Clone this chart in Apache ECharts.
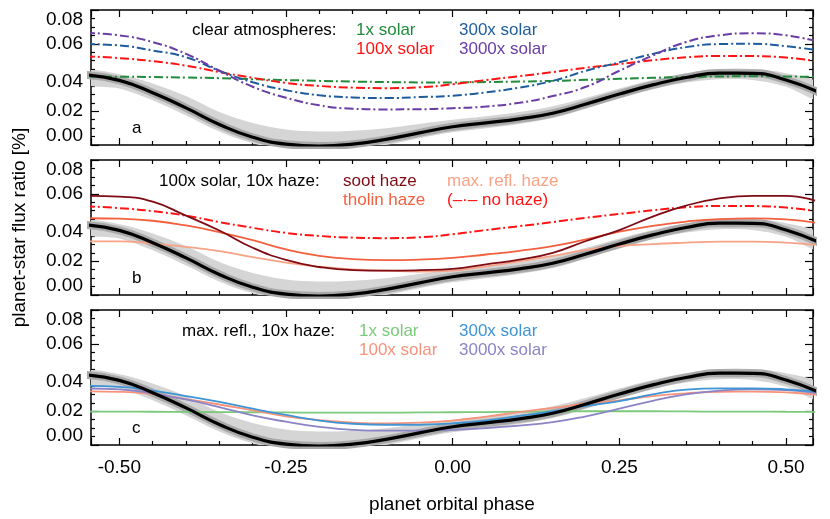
<!DOCTYPE html>
<html lang="en">
<head>
<meta charset="UTF-8"/>
<script type="text/javascript" src="https://cdn.jsdelivr.net/npm/echarts@6/dist/echarts.min.js"></script>
<title>planet-star flux ratio</title>
<style>
    html, body { margin: 0; padding: 0; background: #fff; }
    #main { width: 830px; height: 519px; }
</style>
</head>
<body>
<div id="main"></div>
<script type="text/javascript">
    // orbital phase samples
    var phase = [-0.55, -0.5, -0.45, -0.4, -0.35, -0.3, -0.25, -0.2, -0.15, -0.1, -0.05, 0,
        0.05, 0.1, 0.15, 0.2, 0.25, 0.3, 0.35, 0.4, 0.45, 0.5, 0.55]

    // observed phase curve (black) and its grey envelope
    var observed = [0.0415, 0.0383, 0.0310, 0.0220, 0.0122, 0.0046, 0.0005, -0.0006, 0.0005, 0.0033, 0.0072, 0.0108,
        0.0131, 0.0155, 0.0188, 0.0243, 0.0302, 0.0356, 0.0400, 0.0426, 0.0425, 0.0385, 0.0310]
    var bandHigh = [0.0440, 0.0420, 0.0365, 0.0290, 0.0195, 0.0130, 0.0092, 0.0080, 0.0085, 0.0100, 0.0125, 0.0150,
        0.0170, 0.0195, 0.0230, 0.0280, 0.0335, 0.0385, 0.0425, 0.0450, 0.0450, 0.0425, 0.0365]
    var bandLow = [0.0360, 0.0335, 0.0265, 0.0175, 0.0080, 0.0010, -0.0030, -0.0040, -0.0030, 0.0000, 0.0040, 0.0075,
        0.0100, 0.0125, 0.0160, 0.0215, 0.0275, 0.0330, 0.0370, 0.0390, 0.0385, 0.0345, 0.0265]

    // panel a: clear atmospheres
    var clear1x = [0.0405, 0.0405, 0.0403, 0.0400, 0.0396, 0.0390, 0.0385, 0.0380, 0.0376, 0.0373, 0.0371, 0.0371,
        0.0373, 0.0376, 0.0380, 0.0386, 0.0392, 0.0398, 0.0403, 0.0406, 0.0407, 0.0406, 0.0403]
    var clear100x = [0.0525, 0.0515, 0.0497, 0.0470, 0.0432, 0.0398, 0.0368, 0.0350, 0.0340, 0.0337, 0.0342, 0.0360,
        0.0385, 0.0408, 0.0432, 0.0458, 0.0480, 0.0502, 0.0520, 0.0528, 0.0527, 0.0518, 0.0495]
    var clear300x = [0.0598, 0.0590, 0.0560, 0.0520, 0.0440, 0.0372, 0.0325, 0.0295, 0.0282, 0.0278, 0.0284, 0.0292,
        0.0312, 0.0340, 0.0380, 0.0440, 0.0490, 0.0540, 0.0580, 0.0598, 0.0600, 0.0585, 0.0560]
    var clear3000x = [0.0664, 0.0650, 0.0610, 0.0540, 0.0440, 0.0345, 0.0280, 0.0235, 0.0215, 0.0211, 0.0212, 0.0218,
        0.0228, 0.0250, 0.0290, 0.0345, 0.0440, 0.0530, 0.0610, 0.0650, 0.0662, 0.0650, 0.0610]

    // panel b: 100x solar, 10x haze
    var sootHaze = [0.0588, 0.0583, 0.0553, 0.0470, 0.0382, 0.0280, 0.0208, 0.0166, 0.0147, 0.0144, 0.0147, 0.0155,
        0.0182, 0.0210, 0.0250, 0.0320, 0.0385, 0.0465, 0.0530, 0.0572, 0.0588, 0.0588, 0.0550]
    var tholinHaze = [0.0455, 0.0452, 0.0440, 0.0412, 0.0372, 0.0325, 0.0270, 0.0232, 0.0213, 0.0207, 0.0210, 0.0220,
        0.0240, 0.0262, 0.0290, 0.0330, 0.0375, 0.0410, 0.0435, 0.0450, 0.0454, 0.0448, 0.0425]
    var maxReflHaze = [0.0318, 0.0318, 0.0305, 0.0285, 0.0260, 0.0225, 0.0192, 0.0168, 0.0152, 0.0144, 0.0139, 0.0145,
        0.0170, 0.0200, 0.0232, 0.0268, 0.0290, 0.0302, 0.0310, 0.0316, 0.0316, 0.0310, 0.0295]

    // panel c: max. refl., 10x haze
    var refl1x = [0.0198, 0.0198, 0.0197, 0.0196, 0.0195, 0.0194, 0.0193, 0.0192, 0.0192, 0.0192, 0.0193, 0.0194,
        0.0195, 0.0197, 0.0199, 0.0200, 0.0200, 0.0200, 0.0199, 0.0198, 0.0198, 0.0197, 0.0196]
    var refl100x = [0.0318, 0.0315, 0.0302, 0.0272, 0.0240, 0.0205, 0.0170, 0.0148, 0.0133, 0.0128, 0.0132, 0.0145,
        0.0168, 0.0195, 0.0220, 0.0245, 0.0265, 0.0290, 0.0306, 0.0315, 0.0316, 0.0312, 0.0295]
    var refl300x = [0.0350, 0.0345, 0.0322, 0.0290, 0.0255, 0.0215, 0.0178, 0.0145, 0.0126, 0.0120, 0.0120, 0.0128,
        0.0145, 0.0172, 0.0200, 0.0232, 0.0260, 0.0300, 0.0328, 0.0336, 0.0336, 0.0330, 0.0315]
    var refl3000x = [0.0335, 0.0330, 0.0305, 0.0270, 0.0225, 0.0175, 0.0138, 0.0108, 0.0090, 0.0085, 0.0085, 0.0090,
        0.0100, 0.0115, 0.0135, 0.0170, 0.0215, 0.0262, 0.0300, 0.0322, 0.0330, 0.0325, 0.0305]

    var xTicks = [-0.5, -0.25, 0, 0.25, 0.5]

    var font = 'Liberation Sans, Arial, Helvetica, sans-serif'
    var dashDot = [9, 3, 2, 3]
    var gridTops = [10, 160, 310]

    function pairs(arr) {
        return phase.map(function (p, i) { return [p, arr[i]] })
    }

    var grid = [], xAxis = [], yAxis = [], series = []
    var tickStyle = {color: '#000', width: 1.2}

    gridTops.forEach(function (top, g) {
        grid.push({left: 91, top: top, width: 722, height: 135})
        ;['bottom', 'top'].forEach(function (pos) {
            var labelled = pos === 'bottom' && g === 2
            xAxis.push({
                type: 'value', gridIndex: g, position: pos,
                min: -0.5425, max: 0.5404, minInterval: 0.25, maxInterval: 0.25,
                axisLine: {show: true, onZero: false, lineStyle: {color: '#000', width: 1.5}},
                axisTick: {show: true, inside: true, length: 7, lineStyle: tickStyle},
                minorTick: {show: true, splitNumber: 5, length: 4, lineStyle: tickStyle},
                splitLine: {show: false},
                axisLabel: {
                    show: labelled, showMinLabel: false, showMaxLabel: false,
                    margin: 13, fontSize: 19, color: '#000', fontFamily: font,
                    formatter: function (v) {
                        return xTicks.some(function (t) { return Math.abs(t - v) < 1e-6 }) ? v.toFixed(2) : ''
                    }
                },
                name: labelled ? 'planet orbital phase' : '',
                nameLocation: 'middle', nameGap: 50,
                nameTextStyle: {fontSize: 19, color: '#000', fontFamily: font}
            })
        })
        ;['left', 'right'].forEach(function (pos) {
            var labelled = pos === 'left'
            yAxis.push({
                type: 'value', gridIndex: g, position: pos,
                min: 0, max: 0.08, interval: 0.02,
                axisLine: {show: true, onZero: false, lineStyle: {color: '#000', width: 1.5}},
                axisTick: {show: true, inside: true, length: 8, lineStyle: tickStyle},
                minorTick: {show: true, splitNumber: 4, length: 4, lineStyle: tickStyle},
                splitLine: {show: false},
                axisLabel: {
                    show: labelled, margin: 8, fontSize: 19, color: '#000', fontFamily: font,
                    verticalAlignMinLabel: 'bottom', verticalAlignMaxLabel: 'top',
                    formatter: function (v) {
                        var s = v.toFixed(2)
                        return s === '0.04' ? '{low|' + s + '}' : s
                    },
                    rich: {low: {fontSize: 19, color: '#000', fontFamily: font, padding: [8, 0, 0, 0]}}
                },
                name: (labelled && g === 1) ? 'planet-star flux ratio [%]' : '',
                nameLocation: 'middle', nameGap: 62, nameRotate: 90,
                nameTextStyle: {fontSize: 19, color: '#000', fontFamily: font}
            })
        })

        // grey envelope round the observed curve
        series.push({
            type: 'custom', xAxisIndex: 2 * g, yAxisIndex: 2 * g, clip: true, silent: true,
            data: [[0, 0]],
            renderItem: function (params, api) {
                var pts = []
                for (var i = 0; i < phase.length; i++) pts.push(api.coord([phase[i], bandHigh[i]]))
                for (var j = phase.length - 1; j >= 0; j--) pts.push(api.coord([phase[j], bandLow[j]]))
                var cs = params.coordSys
                return {
                    type: 'group',
                    clipPath: {type: 'rect', shape: {x: cs.x, y: cs.y, width: cs.width, height: cs.height}},
                    children: [{
                        type: 'polygon',
                        shape: {points: pts, smooth: 0.35},
                        style: {fill: '#d5d5d5', stroke: null}
                    }]
                }
            }
        })
        series.push({
            type: 'line', xAxisIndex: 2 * g, yAxisIndex: 2 * g, data: pairs(observed),
            smooth: true, symbol: 'none', lineStyle: {color: '#a9a9a9', width: 8}, silent: true
        })
    })

    function model(g, arr, color, dashed) {
        series.push({
            type: 'line', xAxisIndex: 2 * g, yAxisIndex: 2 * g, data: pairs(arr),
            smooth: true, symbol: 'none', silent: true,
            lineStyle: {color: color, width: dashed ? 2 : 1.8, type: dashed ? dashDot : 'solid'}
        })
    }

    model(0, clear1x, '#218a3b', true)
    model(0, clear100x, '#ff1414', true)
    model(0, clear300x, '#1f5c9e', true)
    model(0, clear3000x, '#6a3da5', true)

    model(1, clear100x, '#ff1414', true)
    model(1, maxReflHaze, '#f8a286', false)
    model(1, tholinHaze, '#f2603f', false)
    model(1, sootHaze, '#7f0b14', false)

    model(2, refl1x, '#7cc97c', false)
    model(2, refl100x, '#f7937a', false)
    model(2, refl3000x, '#8b84c6', false)
    model(2, refl300x, '#3f94d4', false)

    gridTops.forEach(function (top, g) {
        series.push({
            type: 'line', xAxisIndex: 2 * g, yAxisIndex: 2 * g, data: pairs(observed),
            smooth: true, symbol: 'none', lineStyle: {color: '#000', width: 3.2}, silent: true
        })
    })

    function label(x, y, text, color) {
        return {
            type: 'text', x: x, y: y, z: 100, silent: true,
            style: {text: text, fill: color, fontSize: 17, fontFamily: font, verticalAlign: 'middle'}
        }
    }

    var option = {
        animation: false,
        backgroundColor: '#fff',
        grid: grid,
        xAxis: xAxis,
        yAxis: yAxis,
        series: series,
        graphic: [
            label(192, 30, 'clear atmospheres:', '#000'),
            label(356, 30, '1x solar', '#218a3b'),
            label(356, 49, '100x solar', '#ff1414'),
            label(459, 30, '300x solar', '#1f5c9e'),
            label(459, 49, '3000x solar', '#6a3da5'),
            label(132, 128, 'a', '#000'),

            label(159, 181, '100x solar, 10x haze:', '#000'),
            label(343, 181, 'soot haze', '#7f0b14'),
            label(343, 200, 'tholin haze', '#f2603f'),
            label(447, 181, 'max. refl. haze', '#f8a286'),
            label(447, 200, '(\u2013\u00b7\u2013 no haze)', '#ff1414'),
            label(132, 278, 'b', '#000'),

            label(182, 331, 'max. refl., 10x haze:', '#000'),
            label(359, 331, '1x solar', '#7cc97c'),
            label(359, 350, '100x solar', '#f7937a'),
            label(459, 331, '300x solar', '#3f94d4'),
            label(459, 350, '3000x solar', '#8b84c6'),
            label(132, 428, 'c', '#000')
        ]
    }

    var myChart = echarts.init(document.getElementById('main'))
    myChart.setOption(option)
</script>
</body>
</html>
